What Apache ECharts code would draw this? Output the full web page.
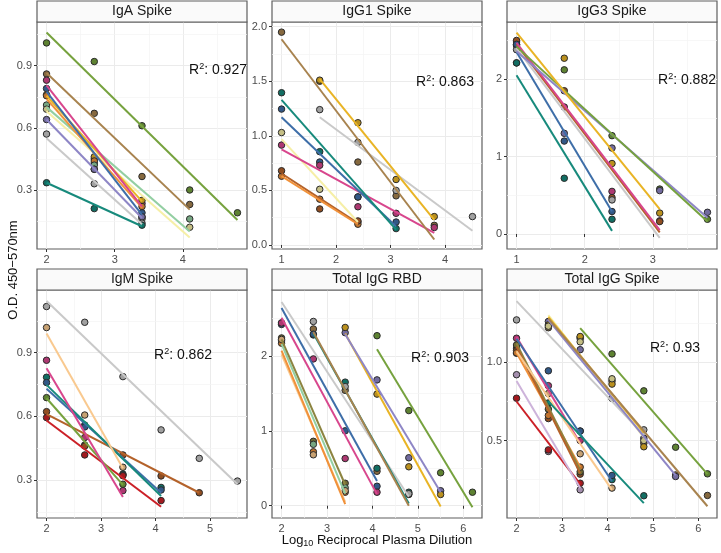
<!DOCTYPE html>
<html><head><meta charset="utf-8">
<script src="https://cdn.jsdelivr.net/npm/echarts@6/dist/echarts.min.js"></script>
<style>html,body{margin:0;padding:0;background:#fff}#c{width:721px;height:553px}</style>
</head><body><div id="c"></div>
<script>
// ---------------- DATA ----------------
const panelTitles = ['IgA Spike','IgG1 Spike','IgG3 Spike','IgM Spike','Total IgG RBD','Total IgG Spike'];
const r2Values = ['0.927','0.863','0.882','0.862','0.903','0.93'];
const xTitle = ['Log', '10', ' Reciprocal Plasma Dilution'];
const yTitle = 'O.D. 450\u2212570nm';

const xRanges = [[1.86,4.94],[0.825,4.675],[0.86,3.94],[1.825,5.675],[1.79,6.41],[1.79,6.41]];
const yRanges = [[0.015,1.111],[-0.037,2.043],[-0.194,2.738],[0.121,1.195],[-0.164,2.88],[0.005,1.461]];
const xTicks = [[2,3,4],[1,2,3,4],[1,2,3],[2,3,4,5],[2,3,4,5,6],[2,3,4,5,6]];
const yTicks = [[0.3,0.6,0.9],[0,0.5,1,1.5,2],[0,1,2],[0.3,0.6,0.9],[0,1,2],[0.5,1]];
const xMinor = [[2.5,3.5,4.5],[1.5,2.5,3.5,4.5],[1.5,2.5,3.5],[2.5,3.5,4.5,5.5],[2.5,3.5,4.5,5.5],[2.5,3.5,4.5,5.5]];
const yMinor = [[0.15,0.45,0.75,1.05],[0.25,0.75,1.25,1.75],[0.5,1.5,2.5],[0.15,0.45,0.75,1.05],[0.5,1.5,2.5],[0.25,0.75,1.25]];
const yDecimals = [1,1,0,1,0,1];

// points: [subject, x, y]; fits: [subject, x0, y0, x1, y1]
const igaPoints = [
 ['S1',2,1.01],['S1',2.7,0.92],['S1',3.4,0.61],['S1',4.1,0.30],['S1',4.8,0.19],
 ['S2',2,0.86],['S2',2.7,0.67],['S2',3.4,0.365],['S2',4.1,0.23],
 ['S3',2,0.83],['S3',2.7,0.45],['S3',3.4,0.235],
 ['S4',2,0.79],['S4',2.7,0.43],['S4',3.4,0.19],
 ['S5',2,0.76],['S5',2.7,0.46],['S5',3.4,0.25],
 ['S6',2,0.755],['S6',2.7,0.44],['S6',3.4,0.22],
 ['S7',2,0.71],['S7',2.7,0.42],['S7',3.4,0.17],['S7',4.1,0.16],
 ['S8',2,0.69],['S8',2.7,0.40],['S8',3.4,0.16],['S8',4.1,0.12],
 ['S9',2,0.64],['S9',2.7,0.40],['S9',3.4,0.17],
 ['S10',2,0.57],['S10',2.7,0.33],['S10',3.4,0.14],
 ['S11',2,0.335],['S11',2.7,0.21],['S11',3.4,0.13]
];
const igaFits = [
 ['S11',2,0.335,3.4,0.125],['S10',2,0.55,3.4,0.135],['S9',2,0.64,3.4,0.165],
 ['S8',2,0.68,4.1,0.07],['S7',2,0.70,4.1,0.10],['S6',2,0.74,3.4,0.215],
 ['S5',2,0.755,3.4,0.245],['S4',2,0.775,3.4,0.18],['S3',2,0.805,3.4,0.22],
 ['S2',2,0.865,4.1,0.205],['S1',2,1.06,4.8,0.155]
];

const igg1Points = [
 ['S2',1,1.95],['S2',1.7,1.50],['S2',2.4,0.76],['S2',3.1,0.45],['S2',3.8,0.18],
 ['S5',1.7,1.51],['S5',2.4,1.12],['S5',3.1,0.60],['S5',3.8,0.26],
 ['S10',1.7,1.24],['S10',2.4,0.94],['S10',3.1,0.50],['S10',4.5,0.26],
 ['S11',1,1.395],['S11',1.7,0.855],['S11',2.4,0.44],['S11',3.1,0.15],
 ['S4',1,1.245],['S4',1.7,0.76],['S4',2.4,0.44],['S4',3.1,0.21],
 ['S3',1,0.915],['S3',1.7,0.73],['S3',2.4,0.35],['S3',3.1,0.29],['S3',3.8,0.16],
 ['S8',1,1.03],['S8',1.7,0.51],['S8',2.4,0.21],
 ['S6',1,0.63],['S6',1.7,0.42],['S6',2.4,0.19],
 ['S15',1,0.68],['S15',1.7,0.33],['S15',2.4,0.22]
];
const igg1Fits = [
 ['S15',1,0.655,2.4,0.20],['S6',1,0.63,2.4,0.19],['S8',1,0.97,2.4,0.21],
 ['S3',1,0.875,3.8,0.11],['S4',1,1.17,3.1,0.17],['S11',1,1.33,3.1,0.14],
 ['S10',1.7,1.17,4.5,0.13],['S5',1.7,1.52,3.8,0.23],['S2',1,1.885,3.8,0.05]
];

const igg3Points = [
 ['S5',1,2.45],['S5',1.7,2.27],['S5',2.4,0.91],['S5',3.1,0.27],
 ['S1',1,2.21],['S1',1.7,2.12],['S1',2.4,1.27],['S1',3.1,0.58],['S1',3.8,0.19],
 ['S9',1,2.43],['S9',1.7,1.30],['S9',2.4,1.11],['S9',3.1,0.56],['S9',3.8,0.28],
 ['S3',1,2.48],['S3',1.7,1.64],['S3',2.4,0.55],['S3',3.1,0.17],
 ['S15',1,2.50],['S15',1.7,1.85],['S15',2.4,0.47],['S15',3.1,0.16],
 ['S10',1,2.38],['S10',2.4,0.44],
 ['S4',1,2.45],['S4',1.7,1.20],['S4',2.4,0.29],
 ['S11',1,2.21],['S11',1.7,0.72],['S11',2.4,0.19]
];
const igg3Fits = [
 ['S11',1,2.05,2.4,0.04],['S4',1,2.35,2.4,0.29],['S10',1,2.40,3.1,-0.05],
 ['S15',1,2.45,3.1,0.02],['S3',1,2.47,3.1,0.05],['S9',1,2.36,3.8,0.21],
 ['S1',1,2.42,3.8,0.16],['S5',1,2.60,3.1,0.32]
];

const igmPoints = [
 ['S10',2,1.117],['S10',2.7,1.043],['S10',3.4,0.787],['S10',4.1,0.536],['S10',4.8,0.402],['S10',5.5,0.295],
 ['S13',2,1.018],['S13',2.7,0.606],['S13',3.4,0.36],
 ['S3',2,0.864],['S3',2.7,0.50],['S3',3.4,0.25],
 ['S11',2,0.784],['S11',2.7,0.559],['S11',3.4,0.328],['S11',4.1,0.265],
 ['S4',2,0.759],['S4',2.7,0.55],['S4',3.4,0.324],['S4',4.1,0.253],
 ['S1',2,0.688],['S1',2.7,0.465],['S1',3.4,0.28],
 ['S15',2,0.622],['S15',2.7,0.46],['S15',3.4,0.418],['S15',4.1,0.319],['S15',4.8,0.24],
 ['S12',2,0.594],['S12',2.7,0.418],['S12',3.4,0.32],['S12',4.1,0.203]
];
const igmFits = [
 ['S12',2,0.58,4.1,0.174],['S15',2,0.61,4.8,0.24],['S1',2,0.685,3.4,0.277],
 ['S4',2,0.73,4.1,0.24],['S11',2,0.748,4.1,0.225],['S3',2,0.826,3.4,0.22],
 ['S13',2,0.99,3.4,0.355],['S10',2,1.143,5.5,0.28]
];

const rbdPoints = [
 ['S1',4.1,2.27],['S1',4.8,1.27],['S1',5.5,0.44],['S1',6.2,0.18],
 ['S9',3.4,2.31],['S9',4.1,1.68],['S9',4.8,0.64],['S9',5.5,0.20],
 ['S5',3.4,2.38],['S5',4.1,1.49],['S5',4.8,0.52],['S5',5.5,0.15],
 ['S2',2.7,2.36],['S2',3.4,1.54],['S2',4.1,0.46],['S2',4.8,0.15],
 ['S11',2.7,2.28],['S11',3.4,1.65],['S11',4.1,0.50],['S11',4.8,0.18],
 ['S10',2,2.44],['S10',2.7,2.46],['S10',3.4,1.59],['S10',4.8,0.16],
 ['S4',2,2.42],['S4',2.7,2.29],['S4',3.4,1.0],['S4',4.1,0.26],
 ['S3',2,2.44],['S3',2.7,1.96],['S3',3.4,0.63],['S3',4.1,0.18],
 ['S14',2,2.24],['S14',2.7,0.86],['S14',3.4,0.30],
 ['S7',2,2.20],['S7',2.7,0.82],['S7',3.4,0.24],
 ['S6',2,2.17],['S6',2.7,0.72],['S6',3.4,0.18],
 ['S13',2,2.22],['S13',2.7,0.68],['S13',3.4,0.20]
];
const rbdFits = [
 ['S13',2,2.02,3.4,0.05],['S6',2,2.07,3.4,0.02],['S7',2,2.16,3.4,0.16],
 ['S14',2,2.22,3.4,0.28],['S3',2,2.51,4.1,0.155],['S4',2,2.64,4.1,0.33],
 ['S10',2,2.72,4.8,0.12],['S11',2.7,2.30,4.8,0.03],['S2',2.7,2.32,4.8,0.0],
 ['S5',3.4,2.30,5.5,-0.01],['S9',3.4,2.29,5.5,0.18],['S1',4.1,2.09,6.2,-0.02]
];

const tigsPoints = [
 ['S1',3.4,1.16],['S1',4.1,1.053],['S1',4.8,0.817],['S1',5.5,0.457],['S1',6.2,0.287],
 ['S2',2.7,1.22],['S2',3.4,1.15],['S2',4.1,0.88],['S2',4.8,0.483],['S2',5.5,0.28],['S2',6.2,0.149],
 ['S9',2.7,1.26],['S9',3.4,1.08],['S9',4.1,0.77],['S9',4.8,0.515],['S9',5.5,0.27],
 ['S5',2.7,1.238],['S5',3.4,1.164],['S5',4.1,0.86],['S5',4.8,0.46],
 ['S8',2.7,1.23],['S8',3.4,1.13],['S8',4.1,0.894],['S8',4.8,0.50],
 ['S10',2,1.27],['S10',4.1,0.77],['S10',4.8,0.568],
 ['S11',2.7,0.74],['S11',3.4,0.56],['S11',4.1,0.25],['S11',4.8,0.147],
 ['S4',2,1.09],['S4',2.7,0.945],['S4',3.4,0.56],['S4',4.1,0.277],
 ['S13',2,1.057],['S13',2.7,0.80],['S13',3.4,0.415],['S13',4.1,0.196],
 ['S3',2,1.153],['S3',2.7,0.85],['S3',3.4,0.50],
 ['S15',2,1.075],['S15',2.7,0.64],['S15',3.4,0.285],
 ['S14',2,1.11],['S14',2.7,0.70],['S14',3.4,0.30],
 ['S6',2,1.06],['S6',2.7,0.66],['S6',3.4,0.33],
 ['S16',2,0.92],['S16',2.7,0.43],['S16',3.4,0.185],
 ['S12',2,0.77],['S12',2.7,0.44],['S12',3.4,0.227]
];
const tigsFits = [
 ['S12',2,0.749,3.4,0.221],['S16',2,0.88,3.4,0.196],['S6',2,1.06,3.4,0.33],
 ['S14',2,1.12,3.4,0.31],['S15',2,1.10,3.4,0.29],['S3',2,1.16,3.4,0.483],
 ['S13',2,1.07,4.1,0.185],['S4',2,1.15,4.1,0.24],['S11',2.7,0.75,4.8,0.10],
 ['S10',2,1.39,4.8,0.536],['S8',2.7,1.30,4.8,0.52],['S5',2.7,1.29,4.8,0.55],
 ['S9',2.7,1.27,5.5,0.277],['S2',2.7,1.28,6.2,0.08],['S1',3.4,1.217,6.2,0.285]
];

const panelPoints = [igaPoints, igg1Points, igg3Points, igmPoints, rbdPoints, tigsPoints];
const panelFits = [igaFits, igg1Fits, igg3Fits, igmFits, rbdFits, tigsFits];

// ---------------- STYLE ----------------
const subjectColors = {
 S1:'#76A23E', S2:'#A8834F', S3:'#D8468D', S4:'#3E6EA8', S5:'#E9B425', S6:'#F0913A',
 S7:'#93CFA2', S8:'#F6EFA6', S9:'#8E86C6', S10:'#C9C9C9', S11:'#178A7C', S12:'#CB2027',
 S13:'#F9C98F', S14:'#8C8440', S15:'#B4622A', S16:'#CDB3DA'
};
const FONT = '"Liberation Sans", Arial, sans-serif';
const lefts = [37, 272, 507, 37, 272, 507];
const tops = [22, 22, 22, 290, 290, 290];
const widths = [210, 210, 210, 210, 210, 210];
const heights = [227, 227, 227, 228, 228, 228];
const r2Pos = [[218,70],[445,82],[687,80],[183,355],[440,358],[675,348]];

function shade(hex, f) {
  const n = parseInt(hex.slice(1), 16);
  const r = Math.round((n >> 16 & 255) * f), g = Math.round((n >> 8 & 255) * f), b = Math.round((n & 255) * f);
  return 'rgb(' + r + ',' + g + ',' + b + ')';
}

const grid = [], xAxis = [], yAxis = [], series = [], graphic = [];
for (let i = 0; i < 6; i++) {
  grid.push({left: lefts[i], top: tops[i], width: widths[i], height: heights[i],
    show: true, borderColor: '#5f5f5f', borderWidth: 1.2, backgroundColor: '#fff',
    containLabel: false, outerBoundsMode: 'none'});
  xAxis.push({type: 'value', gridIndex: i, min: xRanges[i][0], max: xRanges[i][1],
    axisLine: {show: false},
    axisTick: {show: true, length: 3, customValues: xTicks[i], lineStyle: {color: '#333'}},
    axisLabel: {customValues: xTicks[i], color: '#4d4d4d', fontSize: 11, fontFamily: FONT, margin: 5,
      formatter: v => String(v)},
    splitLine: {show: true, lineStyle: {color: '#ebebeb', width: 1}}
  });
  const d = yDecimals[i];
  yAxis.push({type: 'value', gridIndex: i, min: yRanges[i][0], max: yRanges[i][1],
    axisLine: {show: false},
    axisTick: {show: true, length: 3, customValues: yTicks[i], lineStyle: {color: '#333'}},
    axisLabel: {customValues: yTicks[i], color: '#4d4d4d', fontSize: 11, fontFamily: FONT, margin: 5,
      formatter: v => Number(v).toFixed(d)},
    splitLine: {show: true, lineStyle: {color: '#ebebeb', width: 1}}
  });
  // minor grid lines
  series.push({type: 'line', xAxisIndex: i, yAxisIndex: i, data: [], silent: true, animation: false, z: 0,
    markLine: {silent: true, z: 0, symbol: ['none','none'], label: {show: false}, animation: false,
      lineStyle: {color: '#f3f3f3', width: 0.7, type: 'solid'},
      emphasis: {disabled: true},
      data: xMinor[i].map(v => ({xAxis: v})).concat(yMinor[i].map(v => ({yAxis: v})))}
  });
  // points grouped by subject
  const groups = {};
  panelPoints[i].forEach(p => { (groups[p[0]] = groups[p[0]] || []).push([p[1], p[2]]); });
  Object.keys(groups).forEach(s => {
    series.push({type: 'scatter', xAxisIndex: i, yAxisIndex: i, data: groups[s], symbol: 'circle', symbolSize: 6.5,
      itemStyle: {color: shade(subjectColors[s], 0.8), borderColor: '#2a2a2a', borderWidth: 1, opacity: 1},
      silent: true, animation: false, z: 2});
  });
  // fitted lines
  panelFits[i].forEach(f => {
    series.push({type: 'line', xAxisIndex: i, yAxisIndex: i, data: [[f[1], f[2]], [f[3], f[4]]],
      symbol: 'none', lineStyle: {color: subjectColors[f[0]], width: 2}, silent: true, animation: false, z: 3,
      clip: true});
  });
  // strip
  graphic.push({type: 'rect', silent: true, z: 10,
    shape: {x: lefts[i], y: tops[i] - 21, width: widths[i], height: 21},
    style: {fill: '#fafafa', stroke: '#5f5f5f', lineWidth: 1.2}});
  graphic.push({type: 'text', silent: true, z: 11,
    x: lefts[i] + widths[i] / 2, y: tops[i] - 10.5,
    style: {text: panelTitles[i], fill: '#1a1a1a', font: '14px ' + FONT, textAlign: 'center', textVerticalAlign: 'middle'}});
  // R^2 label
  graphic.push({type: 'text', silent: true, z: 11, x: r2Pos[i][0], y: r2Pos[i][1],
    style: {text: '{r|R}{s|2}{r|: ' + r2Values[i] + '}', textAlign: 'center', textVerticalAlign: 'middle',
      rich: {r: {fontSize: 14, fontFamily: FONT, fill: '#111', lineHeight: 16},
             s: {fontSize: 9, fontFamily: FONT, fill: '#111', lineHeight: 10, verticalAlign: 'top'}}}});
}
// axis titles
graphic.push({type: 'text', silent: true, z: 11, x: 13, y: 270, rotation: Math.PI / 2,
  style: {text: yTitle, fill: '#111', font: '13px ' + FONT, textAlign: 'center', textVerticalAlign: 'middle'}});
graphic.push({type: 'text', silent: true, z: 11, x: 377, y: 540,
  style: {text: '{a|' + xTitle[0] + '}{b|' + xTitle[1] + '}{a|' + xTitle[2] + '}', textAlign: 'center', textVerticalAlign: 'middle',
    rich: {a: {fontSize: 13, fontFamily: FONT, fill: '#111', lineHeight: 16},
           b: {fontSize: 9, fontFamily: FONT, fill: '#111', lineHeight: 10, verticalAlign: 'bottom'}}}});

const chart = echarts.init(document.getElementById('c'), null, {renderer: 'canvas'});
chart.setOption({animation: false, backgroundColor: '#fff', grid, xAxis, yAxis, series, graphic});
</script>
</body></html>
